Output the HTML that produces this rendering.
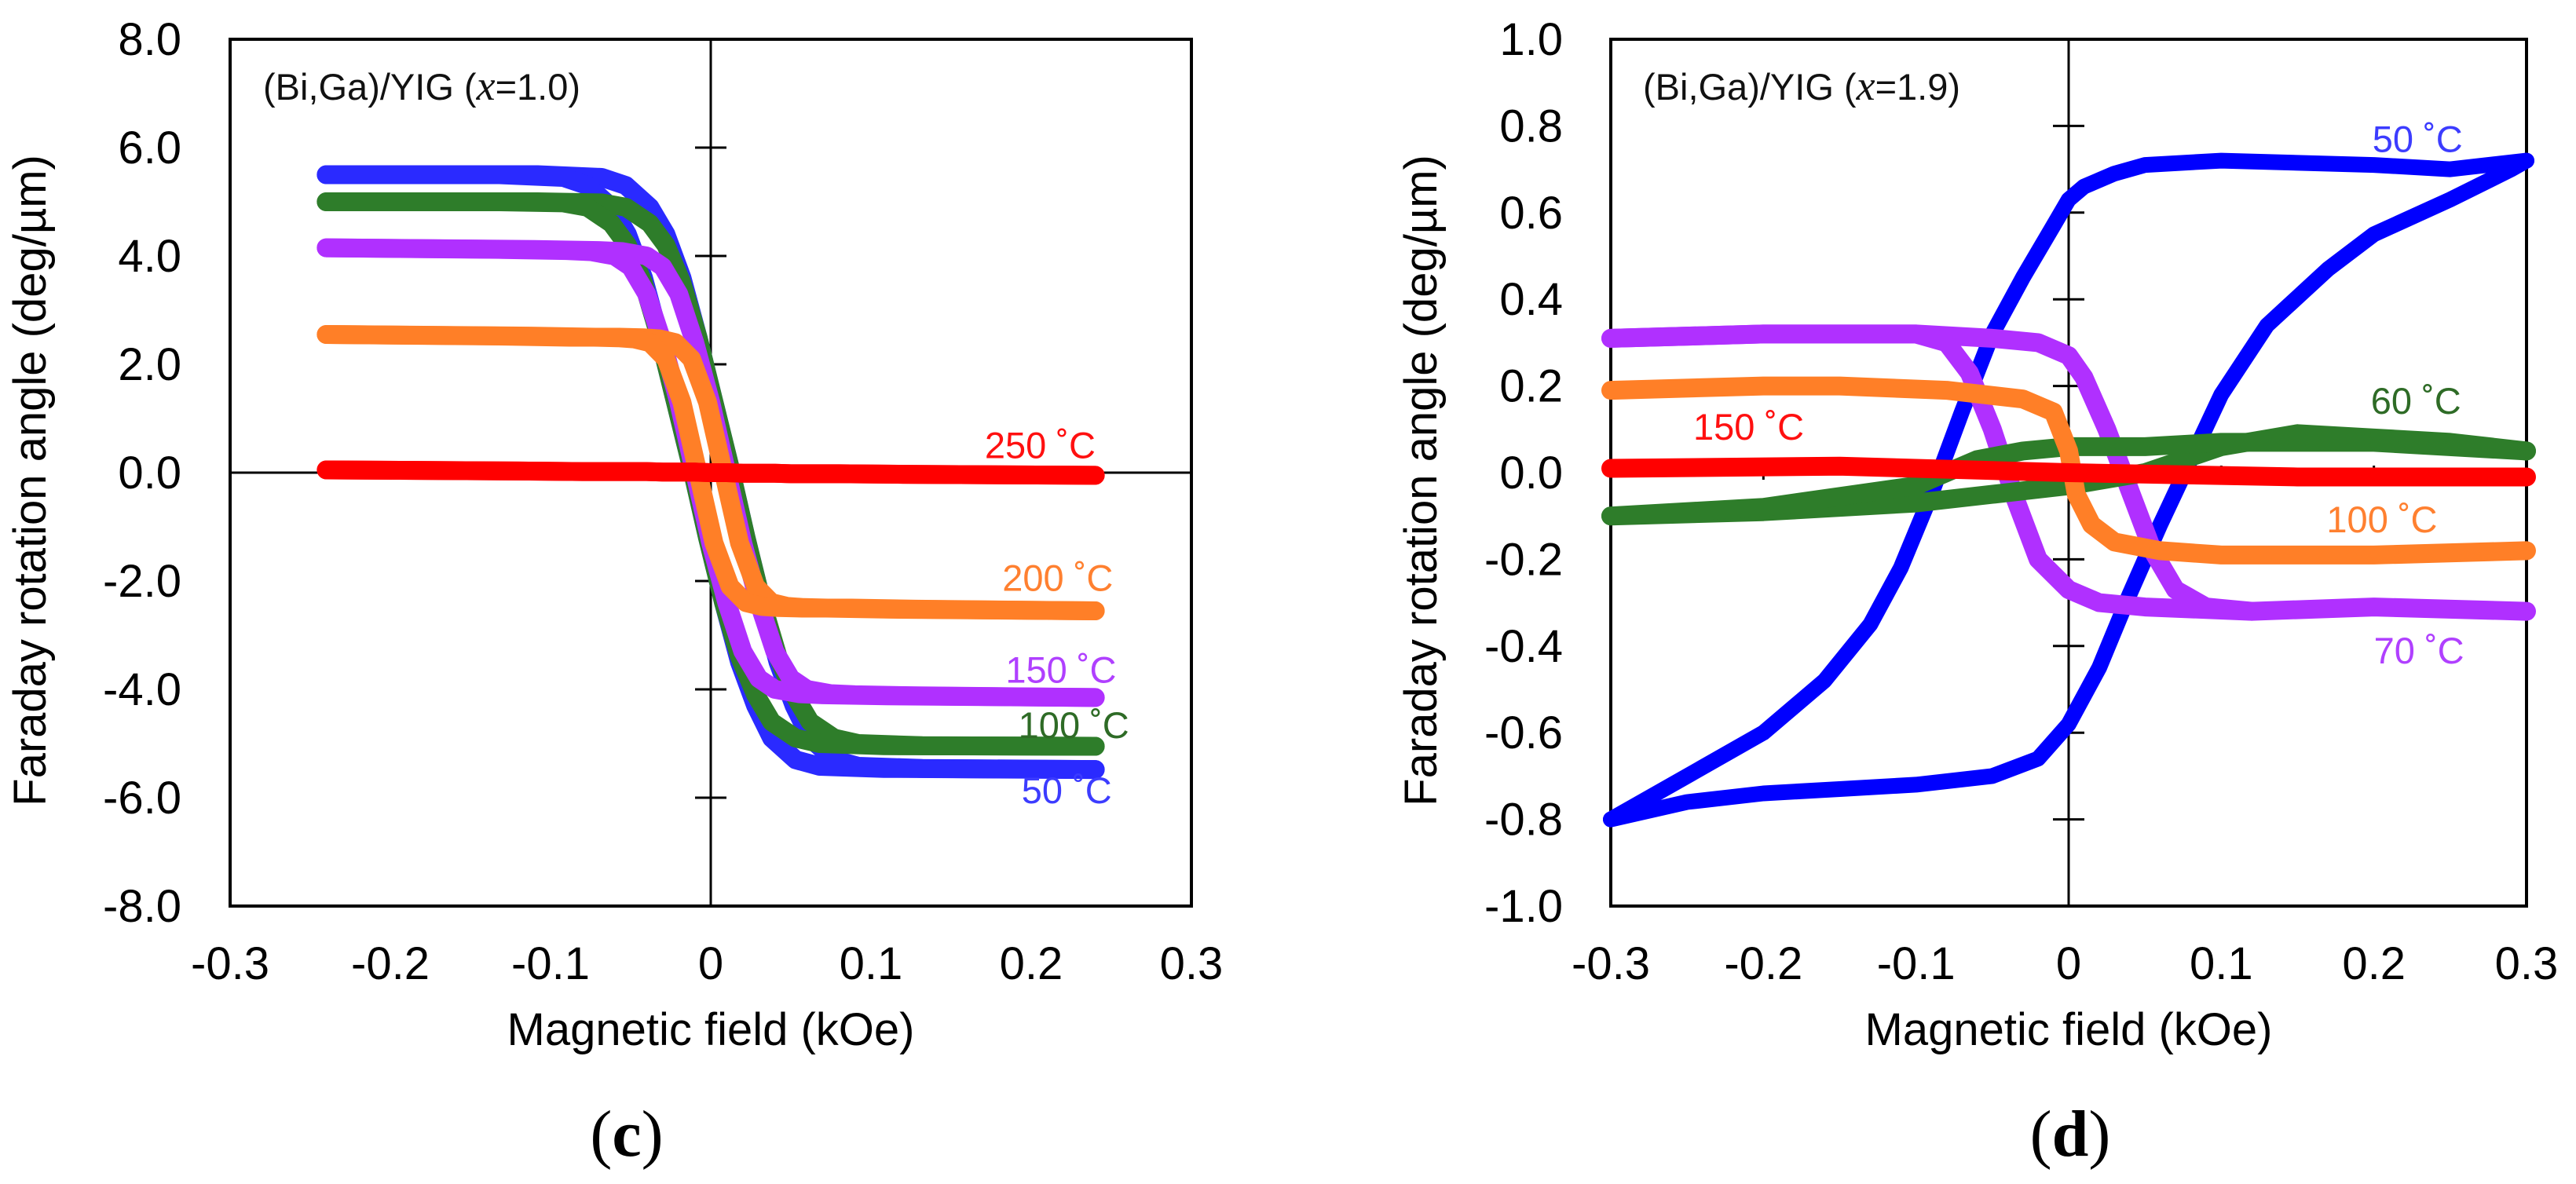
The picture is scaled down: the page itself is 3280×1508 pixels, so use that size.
<!DOCTYPE html>
<html><head><meta charset="utf-8"><style>
html,body{margin:0;padding:0;background:#fff;}
svg{display:block;}
</style></head><body>
<svg id="fig" width="3280" height="1508" viewBox="0 0 3280 1508" xmlns="http://www.w3.org/2000/svg" font-family="Liberation Sans, sans-serif">
<rect x="0" y="0" width="3280" height="1508" fill="#fff"/>
<g id="pc"></g>
<g id="pd"></g>
</svg>
<script>
// ---------- Panel (c) data ----------
const cSeriesNames = ["50 ˚C","100 ˚C","150 ˚C","200 ˚C","250 ˚C"];
const cColors = ["#2a2aff","#2e7d2a","#b030ff","#ff7f27","#ff0000"];
const cLabelColors = ["#3c3cff","#2e6b26","#b040ff","#ff8030","#ff1010"];
const cHalfCoercivity = [0.012,0.012,0.010,0.008,0];
const cProfileX = [-0.24,-0.12,-0.08,-0.065,-0.05,-0.04,-0.03,-0.02,-0.01,0,0.01,0.02,0.03,0.04,0.05,0.065,0.08,0.12,0.24];
const c50 =  [5.5,5.5,5.45,5.3,4.9,4.4,3.6,2.5,1.3,0.1,-1.2,-2.4,-3.5,-4.3,-4.9,-5.3,-5.42,-5.46,-5.48];
const c100 = [5.0,5.0,4.98,4.9,4.6,4.2,3.5,2.5,1.3,0.1,-1.2,-2.4,-3.4,-4.1,-4.6,-4.9,-5.0,-5.04,-5.05];
const c150 = [4.15,4.12,4.1,4.08,4.0,3.8,3.3,2.4,1.3,0.0,-1.3,-2.4,-3.3,-3.8,-4.0,-4.08,-4.1,-4.12,-4.15];
const c200 = [2.55,2.52,2.5,2.5,2.49,2.47,2.4,2.1,1.3,0.0,-1.3,-2.1,-2.4,-2.47,-2.49,-2.5,-2.5,-2.52,-2.55];
const c250 = [0.05,0.03,0.02,0.02,0.02,0.02,0.01,0.01,0.01,0.0,0,-0.01,-0.01,-0.01,-0.02,-0.02,-0.02,-0.03,-0.05];
const cYTicks = [-8,-6,-4,-2,0,2,4,6,8];
const cYTickLabels = ["-8.0","-6.0","-4.0","-2.0","0.0","2.0","4.0","6.0","8.0"];
const cXTicks = [-0.3,-0.2,-0.1,0,0.1,0.2,0.3];
const cXTickLabels = ["-0.3","-0.2","-0.1","0","0.1","0.2","0.3"];
const cLabelPos = [[0.194,-6.1],[0.192,-4.9],[0.184,-3.88],[0.182,-2.18],[0.171,0.27]];

// ---------- Panel (d) data ----------
const dSeriesNames = ["50 ˚C","70 ˚C","60 ˚C","100 ˚C","150 ˚C"];
const dColors = ["#0000ff","#b030ff","#2e7d2a","#ff7f27","#ff0000"];
const dLabelColors = ["#3c3cff","#b040ff","#2e6b26","#ff8030","#ff1010"];
const d50DownX = [0.3,0.25,0.2,0.1,0.05,0.03,0.01,0,-0.01,-0.03,-0.05,-0.07,-0.09,-0.11,-0.13,-0.16,-0.2,-0.25,-0.3];
const d50DownY = [0.72,0.70,0.71,0.72,0.71,0.69,0.66,0.63,0.57,0.45,0.32,0.14,-0.05,-0.22,-0.35,-0.48,-0.6,-0.7,-0.8];
const d50UpX = [-0.3,-0.25,-0.2,-0.15,-0.1,-0.05,-0.02,0,0.02,0.04,0.06,0.08,0.1,0.13,0.17,0.2,0.25,0.29,0.3];
const d50UpY = [-0.8,-0.76,-0.74,-0.73,-0.72,-0.7,-0.66,-0.58,-0.45,-0.28,-0.12,0.03,0.18,0.34,0.47,0.55,0.63,0.70,0.72];
const d70DownX = [-0.3,-0.2,-0.1,-0.05,-0.02,0,0.01,0.025,0.04,0.055,0.07,0.09,0.12,0.2,0.3];
const d70DownY = [0.31,0.32,0.32,0.31,0.30,0.27,0.22,0.1,-0.04,-0.18,-0.27,-0.31,-0.32,-0.31,-0.32];
const d70UpX = [0.12,0.05,0.02,0,-0.02,-0.035,-0.05,-0.065,-0.08,-0.1,-0.2,-0.3];
const d70UpY = [-0.32,-0.31,-0.30,-0.27,-0.2,-0.06,0.1,0.23,0.3,0.32,0.32,0.31];
const d60UpX = [-0.3,-0.2,-0.1,-0.05,0,0.05,0.1,0.15,0.2,0.25,0.3];
const d60UpY = [-0.1,-0.09,-0.07,-0.05,-0.03,0.0,0.06,0.09,0.08,0.07,0.05];
const d60DownX = [0.3,0.2,0.1,0.05,0,-0.03,-0.06,-0.1,-0.2,-0.3];
const d60DownY = [0.05,0.07,0.07,0.06,0.06,0.05,0.03,-0.03,-0.08,-0.1];
const d100X = [-0.3,-0.2,-0.15,-0.08,-0.03,-0.01,0,0.005,0.015,0.03,0.06,0.1,0.2,0.3];
const d100Y = [0.19,0.2,0.2,0.19,0.17,0.14,0.05,-0.05,-0.12,-0.16,-0.18,-0.19,-0.19,-0.18];
const d150X = [-0.3,-0.15,0,0.15,0.3];
const d150Y = [0.01,0.015,0.0,-0.01,-0.01];
const dYTicks = [-1,-0.8,-0.6,-0.4,-0.2,0,0.2,0.4,0.6,0.8,1];
const dYTickLabels = ["-1.0","-0.8","-0.6","-0.4","-0.2","0.0","0.2","0.4","0.6","0.8","1.0"];
const dXTicks = [-0.3,-0.2,-0.1,0,0.1,0.2,0.3];
const dXTickLabels = ["-0.3","-0.2","-0.1","0","0.1","0.2","0.3"];
const dLabelPos = [[0.199,0.74],[0.2,-0.44],[0.198,0.136],[0.169,-0.138],[-0.246,0.076]];

const NS = "http://www.w3.org/2000/svg";
function mk(tag, attrs, parent){
  const e = document.createElementNS(NS, tag);
  for (const k in attrs) e.setAttribute(k, attrs[k]);
  parent.appendChild(e);
  return e;
}

function drawFrame(g, ax, xTicks, xLabels, yTicks, yLabels, yLabelRight, yTitleX, annotX, annotValue){
  const box = mk("rect",{x:ax.L,y:ax.T,width:ax.R-ax.L,height:ax.B-ax.T,fill:"none",stroke:"#000","stroke-width":4},g);
  
  
  const xc = ax.x(0), y0 = ax.y(0);
  const va = mk("line",{x1:xc,y1:ax.T,x2:xc,y2:ax.B,stroke:"#000","stroke-width":3},g);
  
  
  const ha = mk("line",{x1:ax.L,y1:y0,x2:ax.R,y2:y0,stroke:"#000","stroke-width":3},g);
  
  
  yTicks.forEach((v,i)=>{
    const y = ax.y(v);
    if (v!==yTicks[0] && v!==yTicks[yTicks.length-1] && v!==0){
      const t = mk("line",{x1:xc-20,y1:y,x2:xc+20,y2:y,stroke:"#000","stroke-width":3},g);
      
      
    }
    const lb = mk("text",{x:yLabelRight,y:y+20,"text-anchor":"end","font-size":58,fill:"#000"},g);
    lb.textContent = yLabels[i];
    
    
  });
  xTicks.forEach((v,i)=>{
    const x = ax.x(v);
    if (v!==0 && Math.abs(v)<0.29){
      const t = mk("line",{x1:x,y1:y0-9,x2:x,y2:y0+9,stroke:"#000","stroke-width":3},g);
      
      
    }
    const lb = mk("text",{x:x,y:1247,"text-anchor":"middle","font-size":58,fill:"#000"},g);
    lb.textContent = xLabels[i];
    
    
  });
  const xt = mk("text",{x:xc,y:1331,"text-anchor":"middle","font-size":58,fill:"#000"},g);
  xt.textContent = "Magnetic field (kOe)";
  
  
  const yt = mk("text",{x:0,y:0,"text-anchor":"middle","font-size":58,fill:"#000",transform:`translate(${yTitleX},612) rotate(-90)`},g);
  yt.textContent = "Faraday rotation angle (deg/µm)";
  
  
  const an = mk("text",{x:annotX,y:127,"font-size":47,fill:"#111"},g);
  
  
  const t1 = mk("tspan",{},an); t1.textContent = "(Bi,Ga)/YIG (";
  const t2 = mk("tspan",{style:"font-family:'Liberation Serif',serif;font-style:italic;font-size:54px"},an); t2.textContent = "x";
  const t3 = mk("tspan",{},an); t3.textContent = "=" + annotValue + ")";
}

function pathD(ax, xs, ys, dx){
  return xs.map((v,i)=>{
    const s = Math.abs(v) < 0.2 ? (dx||0) : 0;
    return (i?"L":"M")+ax.x(v+s).toFixed(1)+","+ax.y(ys[i]).toFixed(1);
  }).join(" ");
}
function curve(g, ax, xs, ys, color, w, name, dx){
  const p = mk("path",{d:pathD(ax,xs,ys,dx),fill:"none",stroke:color,"stroke-width":w,"stroke-linecap":"round","stroke-linejoin":"round"},g);
  
  
  return p;
}
function label(g, ax, pos, txt, color){
  const t = mk("text",{x:ax.x(pos[0]),y:ax.y(pos[1]),"font-size":47,fill:color},g);
  t.textContent = txt;
  
  
}
function caption(g, x, letter, name){
  const c = mk("text",{x:x,y:1472,"text-anchor":"middle",style:"font-family:'Liberation Serif',serif;font-size:84px",fill:"#000"},g);
  
  
  const a = mk("tspan",{},c); a.textContent="(";
  const b = mk("tspan",{style:"font-weight:bold"},c); b.textContent=letter;
  const d = mk("tspan",{},c); d.textContent=")";
}

// ---------- Panel (c) ----------
const axC = {L:293,R:1517,T:50,B:1154,x0:-0.3,x1:0.3,y0:-8,y1:8};
axC.x = v => axC.L + (v-axC.x0)/(axC.x1-axC.x0)*(axC.R-axC.L);
axC.y = v => axC.B - (v-axC.y0)/(axC.y1-axC.y0)*(axC.B-axC.T);
const gc = document.getElementById("pc");
drawFrame(gc, axC, cXTicks, cXTickLabels, cYTicks, cYTickLabels, 231, 58, 335, "1.0");
const cData = [c50,c100,c150,c200,c250];
cData.forEach((ys,i)=>{
  curve(gc, axC, cProfileX, ys, cColors[i], 24, "curve-c-"+i+"-down", cHalfCoercivity[i]);
  curve(gc, axC, cProfileX, ys, cColors[i], 24, "curve-c-"+i+"-up", -cHalfCoercivity[i]);
});
cData.forEach((ys,i)=>label(gc, axC, cLabelPos[i], cSeriesNames[i], cLabelColors[i]));
caption(gc, 798, "c", "caption-c");

// ---------- Panel (d) ----------
const axD = {L:2051,R:3217,T:50,B:1154,x0:-0.3,x1:0.3,y0:-1,y1:1};
axD.x = v => axD.L + (v-axD.x0)/(axD.x1-axD.x0)*(axD.R-axD.L);
axD.y = v => axD.B - (v-axD.y0)/(axD.y1-axD.y0)*(axD.B-axD.T);
const gd = document.getElementById("pd");
drawFrame(gd, axD, dXTicks, dXTickLabels, dYTicks, dYTickLabels, 1990, 1829, 2092, "1.9");
curve(gd, axD, d50DownX, d50DownY, dColors[0], 20, "curve-d-50-down");
curve(gd, axD, d50UpX, d50UpY, dColors[0], 20, "curve-d-50-up");
curve(gd, axD, d70DownX, d70DownY, dColors[1], 24, "curve-d-70-down");
curve(gd, axD, d70UpX, d70UpY, dColors[1], 24, "curve-d-70-up");
curve(gd, axD, d60UpX, d60UpY, dColors[2], 24, "curve-d-60-up");
curve(gd, axD, d60DownX, d60DownY, dColors[2], 24, "curve-d-60-down");
curve(gd, axD, d100X, d100Y, dColors[3], 24, "curve-d-100");
curve(gd, axD, d150X, d150Y, dColors[4], 24, "curve-d-150");
dSeriesNames.forEach((n,i)=>label(gd, axD, dLabelPos[i], n, dLabelColors[i]));
caption(gd, 2636, "d", "caption-d");
</script>
</body></html>
